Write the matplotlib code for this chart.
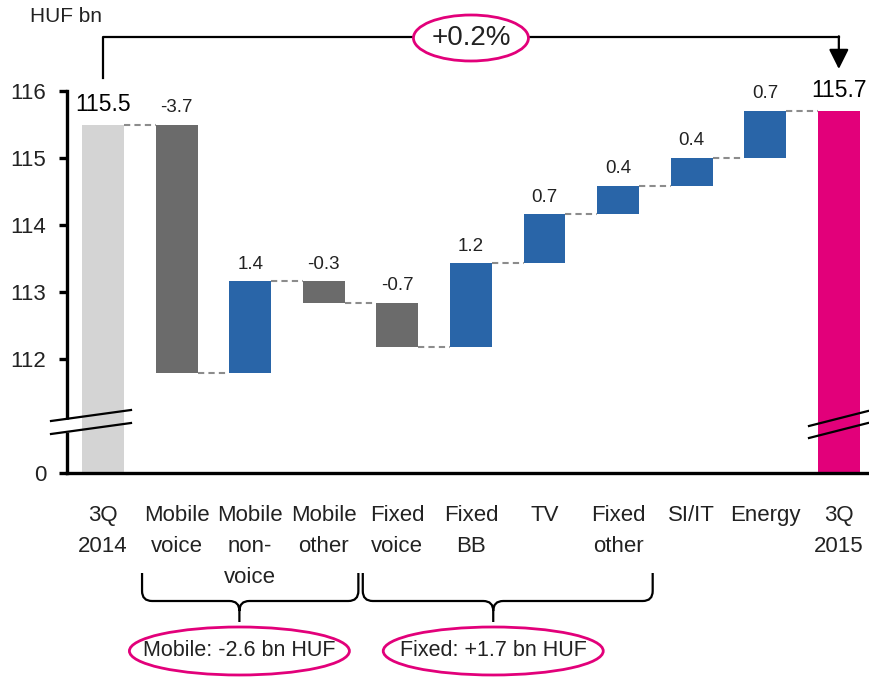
import matplotlib
matplotlib.use('Agg')
import matplotlib.pyplot as plt
import numpy as np
from matplotlib.patches import Ellipse, Polygon, PathPatch, FancyArrowPatch
from matplotlib.path import Path
from matplotlib.lines import Line2D

plt.rcParams['font.family'] = ['Liberation Sans', 'DejaVu Sans']

# data
categories = ['3Q\n2014', 'Mobile\nvoice', 'Mobile\nnon-\nvoice', 'Mobile\nother',
              'Fixed\nvoice', 'Fixed\nBB', 'TV', 'Fixed\nother', 'SI/IT', 'Energy', '3Q\n2015']
start_value = 115.49
end_value = 115.70
deltas = [-3.70, 1.37, -0.32, -0.66, 1.25, 0.73, 0.42, 0.42, 0.70]
value_labels = ['115.5', '-3.7', '1.4', '-0.3', '-0.7', '1.2', '0.7', '0.4', '0.4', '0.7', '115.7']
y_ticks = [112, 113, 114, 115, 116]
zero_pos = 110.3   # where "0" sits on the broken axis
total_change = '+0.2%'
groups = [('Mobile: -2.6 bn HUF', 1, 3), ('Fixed: +1.7 bn HUF', 4, 7)]

LIGHT = '#d4d4d4'
GREY = '#6b6b6b'
BLUE = '#2965a8'
MAGENTA = '#e2007a'
TXT = '#222222'

W, H = 869, 677
fig = plt.figure(figsize=(W / 100, H / 100), dpi=100)
ax = fig.add_axes([67 / W, (H - 473) / H, (W - 67) / W, (473 - 91) / H])

n = len(categories)
x = np.arange(n)
bw = 0.57

# waterfall
bottoms = [zero_pos]
heights = [start_value - zero_pos]
colors = [LIGHT]
levels = [start_value]
level = start_value
for d in deltas:
    bottoms.append(min(level, level + d))
    heights.append(abs(d))
    colors.append(BLUE if d > 0 else GREY)
    level += d
    levels.append(level)
bottoms.append(zero_pos)
heights.append(end_value - zero_pos)
colors.append(MAGENTA)

ax.bar(x, heights, bottom=bottoms, width=bw, color=colors, zorder=2)
ax.hlines(levels, x[:-1] + bw / 2, x[1:] - bw / 2, colors='#8c8c8c',
          linestyles=(0, (3, 2)), lw=1.5, zorder=1)

tops = np.array(bottoms) + np.array(heights)
for i, lab in enumerate(value_labels):
    big = i in (0, n - 1)
    ax.text(x[i], tops[i] + 0.13, lab, ha='center', va='bottom',
            fontsize=16.5 if big else 13.5, color='black' if big else TXT,
            clip_on=False)

ax.set_xlim(-0.49, 10.41)
ax.set_ylim(zero_pos, 116)
ax.set_yticks([zero_pos] + y_ticks)
ax.set_yticklabels(['0'] + [str(t) for t in y_ticks])
ax.set_xticks([])
for s in ['top', 'right']:
    ax.spines[s].set_visible(False)
ax.spines['left'].set_linewidth(2.4)
ax.spines['bottom'].set_linewidth(2.4)
ax.tick_params(axis='y', length=6, width=2.4, labelsize=16, pad=9, labelcolor=TXT)

for i, c in enumerate(categories):
    ax.text(x[i], -0.085, c, transform=ax.get_xaxis_transform(), ha='center', va='top',
            fontsize=16, linespacing=1.6, color=TXT)

fig.canvas.draw()


def to_fig(px, py):
    return px / W, 1 - py / H


def xpx(xd):
    return ax.transData.transform((xd, 0))[0] * 100 / fig.dpi


def add_line(pts, **kw):
    xs, ys = zip(*[to_fig(a, b) for a, b in pts])
    fig.add_artist(Line2D(xs, ys, transform=fig.transFigure, **kw))


# axis breaks
fig.add_artist(Polygon([to_fig(*p) for p in [(52, 422), (80, 418), (80, 431), (52, 435)]],
                       closed=True, transform=fig.transFigure, facecolor='white',
                       edgecolor='none', zorder=5))
add_line([(51, 421), (131, 410)], color='black', lw=1.6, zorder=6)
add_line([(51, 434), (131, 423)], color='black', lw=1.6, zorder=6)
add_line([(809, 426), (868, 411)], color='black', lw=1.6, zorder=6)
add_line([(809, 438), (868, 423)], color='black', lw=1.6, zorder=6)

# top bracket with change
xa, xb = xpx(x[0]), xpx(x[-1])
add_line([(xa, 78), (xa, 37), (xb, 37)], color='black', lw=1.6)
fig.add_artist(FancyArrowPatch(
    to_fig(xb, 36.3), to_fig(xb, 69), transform=fig.transFigure,
    arrowstyle='-|>,head_length=1.0,head_width=0.5', mutation_scale=12,
    color='black', lw=1.6, shrinkA=0, shrinkB=0))
ex, ey = to_fig((xa + xb) / 2, 38)
fig.add_artist(Ellipse((ex, ey), 115 / W, 46 / H, transform=fig.transFigure,
                       facecolor='white', edgecolor=MAGENTA, lw=2, zorder=4))
fig.text(ex, ey, total_change, ha='center', va='center', fontsize=20, color=TXT, zorder=5)

fig.text(30 / W, 1 - 17 / H, 'HUF bn', ha='left', va='center', fontsize=15, color=TXT)

# group braces
for label, i0, i1 in groups:
    x0 = xpx(x[i0] - 0.47)
    x1 = xpx(x[i1] + 0.47)
    xc = x0 + 0.45 * (x1 - x0)
    yt, ym, yb, r = 573, 601, 622, 10
    verts = [(x0, yt), (x0, ym - r), (x0, ym), (x0 + r, ym), (xc - r, ym), (xc, ym), (xc, ym + r),
             (xc, yb), (xc, ym + r), (xc, ym), (xc + r, ym), (x1 - r, ym), (x1, ym), (x1, ym - r),
             (x1, yt)]
    codes = [Path.MOVETO, Path.LINETO, Path.CURVE3, Path.CURVE3, Path.LINETO, Path.CURVE3, Path.CURVE3,
             Path.LINETO, Path.MOVETO, Path.CURVE3, Path.CURVE3, Path.LINETO, Path.CURVE3, Path.CURVE3,
             Path.LINETO]
    path = Path([to_fig(*v) for v in verts], codes)
    fig.add_artist(PathPatch(path, transform=fig.transFigure, fill=False, lw=1.6, color='black'))
    cx, cy = to_fig(xc, 651)
    fig.add_artist(Ellipse((cx, cy), 220 / W, 48 / H, transform=fig.transFigure,
                           facecolor='white', edgecolor=MAGENTA, lw=2, zorder=4))
    fig.text(cx, cy, label, ha='center', va='center', fontsize=15.5, color=TXT, zorder=5)

fig.savefig('out.png', dpi=100)
